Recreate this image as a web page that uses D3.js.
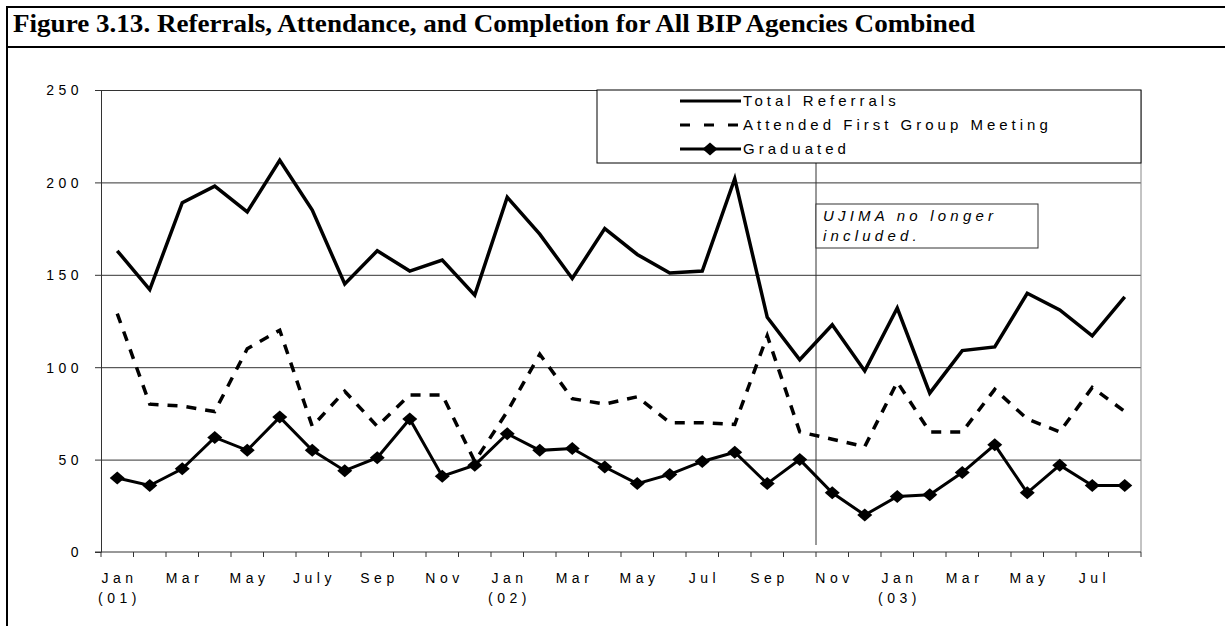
<!DOCTYPE html>
<html lang="en">
<head>
    <meta charset="UTF-8">
    <title>Figure 3.13</title>
    <style>
        body {
            margin: 0;
            background-color: white;
        }
        svg {
            display: block;
        }
        .axis-label {
            font-family: "Liberation Sans", Arial, sans-serif;
            font-size: 14px;
            letter-spacing: 4.5px;
            fill: #000;
        }
        .legend-label {
            font-family: "Liberation Sans", Arial, sans-serif;
            font-size: 15px;
            letter-spacing: 4px;
            fill: #000;
        }
        .note {
            font-family: "Liberation Sans", Arial, sans-serif;
            font-size: 15px;
            font-style: italic;
            letter-spacing: 4.2px;
            fill: #000;
        }
    </style>
    <script src="https://d3js.org/d3.v7.min.js"></script>
</head>
<body>
    <svg id="chart"></svg>

    <script>
        // months Jan 2001 .. Aug 2003
        const categories = [
            "Jan 01", "Feb 01", "Mar 01", "Apr 01", "May 01", "Jun 01", "Jul 01", "Aug 01", "Sep 01", "Oct 01", "Nov 01", "Dec 01",
            "Jan 02", "Feb 02", "Mar 02", "Apr 02", "May 02", "Jun 02", "Jul 02", "Aug 02", "Sep 02", "Oct 02", "Nov 02", "Dec 02",
            "Jan 03", "Feb 03", "Mar 03", "Apr 03", "May 03", "Jun 03", "Jul 03", "Aug 03"
        ];
        const totalReferrals = [
            163, 142, 189, 198, 184, 212, 185, 145, 163, 152, 158, 139,
            192, 172, 148, 175, 161, 151, 152, 202, 127, 104, 123, 98,
            132, 86, 109, 111, 140, 131, 117, 138
        ];
        const attendedFirst = [
            129, 80, 79, 76, 110, 120, 68, 87, 68, 85, 85, 49,
            76, 107, 83, 80, 84, 70, 70, 69, 117, 65, 61, 57,
            92, 65, 65, 88, 72, 65, 89, 76
        ];
        const graduated = [
            40, 36, 45, 62, 55, 73, 55, 44, 51, 72, 41, 47,
            64, 55, 56, 46, 37, 42, 49, 54, 37, 50, 32, 20,
            30, 31, 43, 58, 32, 47, 36, 36
        ];
        const tickLabels = [
            "Jan", "", "Mar", "", "May", "", "July", "", "Sep", "", "Nov", "",
            "Jan", "", "Mar", "", "May", "", "Jul", "", "Sep", "", "Nov", "",
            "Jan", "", "Mar", "", "May", "", "Jul", ""
        ];
        const yearLabels = ["(01)", "(02)", "(03)"];
        const yTicks = [0, 50, 100, 150, 200, 250];
        const seriesNames = ["Total Referrals", "Attended First Group Meeting", "Graduated"];
        const noteLines = ["UJIMA no longer", "included."];
        const noteAfter = "Oct 02";

        const W = 1225, H = 626;
        const plot = { left: 101, right: 1141, top: 90, bottom: 552 };

        const svg = d3.select("#chart").attr("width", W).attr("height", H);

        // outer frame + title bar
        svg.append("line").attr("x1", 6).attr("x2", W).attr("y1", 7).attr("y2", 7)
            .attr("stroke", "#000").attr("stroke-width", 2);
        svg.append("line").attr("x1", 6).attr("x2", W).attr("y1", 47).attr("y2", 47)
            .attr("stroke", "#000").attr("stroke-width", 2);
        svg.append("line").attr("x1", 7).attr("x2", 7).attr("y1", 6).attr("y2", H)
            .attr("stroke", "#000").attr("stroke-width", 2);

        svg.append("text")
            .attr("x", 13)
            .attr("y", 32)
            .attr("font-family", "'Liberation Serif', 'Times New Roman', serif")
            .attr("font-weight", "bold")
            .attr("font-size", 25)
            .attr("textLength", 962)
            .attr("lengthAdjust", "spacingAndGlyphs")
            .text("Figure 3.13. Referrals, Attendance, and Completion for All BIP Agencies Combined");

        const x = d3.scaleBand()
            .domain(categories)
            .range([plot.left, plot.right]);

        const y = d3.scaleLinear()
            .domain([0, 250])
            .range([plot.bottom, plot.top]);

        const cx = d => x(d) + x.bandwidth() / 2;

        // gridlines
        svg.append("g")
            .attr("transform", `translate(${plot.left},0)`)
            .call(d3.axisLeft(y).tickValues(yTicks.slice(1)).tickSize(-(plot.right - plot.left)).tickFormat(""))
            .call(g => g.select(".domain").remove())
            .call(g => g.selectAll("line").attr("stroke", "#333").attr("stroke-width", 1));

        // right border of plot
        svg.append("line")
            .attr("x1", plot.right).attr("x2", plot.right)
            .attr("y1", plot.top).attr("y2", plot.bottom)
            .attr("stroke", "#888");

        // y axis
        const yAxis = svg.append("g")
            .attr("transform", `translate(${plot.left},0)`)
            .call(d3.axisLeft(y).tickValues(yTicks).tickSize(6).tickPadding(12).tickSizeOuter(0));
        yAxis.select(".domain").attr("stroke", "#333");
        yAxis.selectAll(".tick line").attr("stroke", "#333");
        yAxis.selectAll("text")
            .attr("class", "axis-label")
            .attr("font-family", null)
            .attr("font-size", null)
            .attr("dy", "0.35em");

        // x axis line + ticks at category boundaries
        svg.append("line")
            .attr("x1", plot.left - 6).attr("x2", plot.right)
            .attr("y1", plot.bottom).attr("y2", plot.bottom)
            .attr("stroke", "#333");

        const bounds = categories.map(c => x(c)).concat([x(categories[categories.length - 1]) + x.step()]);
        svg.append("g").selectAll("line")
            .data(bounds)
            .join("line")
            .attr("x1", d => d).attr("x2", d => d)
            .attr("y1", plot.bottom).attr("y2", plot.bottom + 5)
            .attr("stroke", "#333");

        svg.append("g").selectAll("text")
            .data(categories.filter((c, i) => tickLabels[i] !== ""))
            .join("text")
            .attr("class", "axis-label")
            .attr("x", d => cx(d) + 2.25)
            .attr("y", plot.bottom + 31)
            .attr("text-anchor", "middle")
            .text(d => tickLabels[categories.indexOf(d)]);

        svg.append("g").selectAll("text")
            .data(categories.filter(c => c.startsWith("Jan")))
            .join("text")
            .attr("class", "axis-label")
            .attr("x", d => cx(d) + 2.25)
            .attr("y", plot.bottom + 51)
            .attr("text-anchor", "middle")
            .text((d, i) => yearLabels[i]);

        // separator line where UJIMA dropped out
        const sepX = x(noteAfter) + x.step();
        svg.append("line")
            .attr("x1", sepX).attr("x2", sepX)
            .attr("y1", plot.top).attr("y2", plot.bottom - 7)
            .attr("stroke", "#333");

        // series
        const line = d3.line()
            .x((d, i) => cx(categories[i]))
            .y(d => y(d));

        svg.append("path")
            .datum(totalReferrals)
            .attr("fill", "none")
            .attr("stroke", "#000")
            .attr("stroke-width", 3.5)
            .attr("stroke-linejoin", "miter")
            .attr("d", line);

        svg.append("path")
            .datum(attendedFirst)
            .attr("fill", "none")
            .attr("stroke", "#000")
            .attr("stroke-width", 3.5)
            .attr("stroke-dasharray", "10,9")
            .attr("d", line);

        svg.append("path")
            .datum(graduated)
            .attr("fill", "none")
            .attr("stroke", "#000")
            .attr("stroke-width", 3)
            .attr("d", line);

        const diamond = "M0,-6.5L7.5,0L0,6.5L-7.5,0Z";
        svg.append("g").selectAll("path")
            .data(graduated)
            .join("path")
            .attr("transform", (d, i) => `translate(${cx(categories[i])},${y(d)})`)
            .attr("d", diamond)
            .attr("fill", "#000");

        // legend
        const legend = svg.append("g");
        legend.append("rect")
            .attr("x", 597).attr("y", plot.top)
            .attr("width", plot.right - 597).attr("height", 73)
            .attr("fill", "white")
            .attr("stroke", "#000");

        const rows = [101, 125, 149];
        legend.append("line")
            .attr("x1", 680).attr("x2", 741).attr("y1", rows[0]).attr("y2", rows[0])
            .attr("stroke", "#000").attr("stroke-width", 3);
        legend.append("line")
            .attr("x1", 680).attr("x2", 739).attr("y1", rows[1]).attr("y2", rows[1])
            .attr("stroke", "#000").attr("stroke-width", 3).attr("stroke-dasharray", "10,14");
        legend.append("line")
            .attr("x1", 680).attr("x2", 741).attr("y1", rows[2]).attr("y2", rows[2])
            .attr("stroke", "#000").attr("stroke-width", 3);
        legend.append("path")
            .attr("transform", `translate(710,${rows[2]})`)
            .attr("d", diamond)
            .attr("fill", "#000");

        legend.selectAll("text")
            .data(seriesNames)
            .join("text")
            .attr("class", "legend-label")
            .attr("x", 743)
            .attr("y", (d, i) => rows[i])
            .attr("dy", "0.35em")
            .text(d => d);

        // annotation box
        const note = svg.append("g");
        note.append("rect")
            .attr("x", sepX).attr("y", 204)
            .attr("width", 1038 - sepX).attr("height", 44)
            .attr("fill", "white")
            .attr("stroke", "#333");
        note.selectAll("text")
            .data(noteLines)
            .join("text")
            .attr("class", "note")
            .attr("x", sepX + 7)
            .attr("y", (d, i) => 221 + i * 20)
            .text(d => d);
    </script>
</body>
</html>
